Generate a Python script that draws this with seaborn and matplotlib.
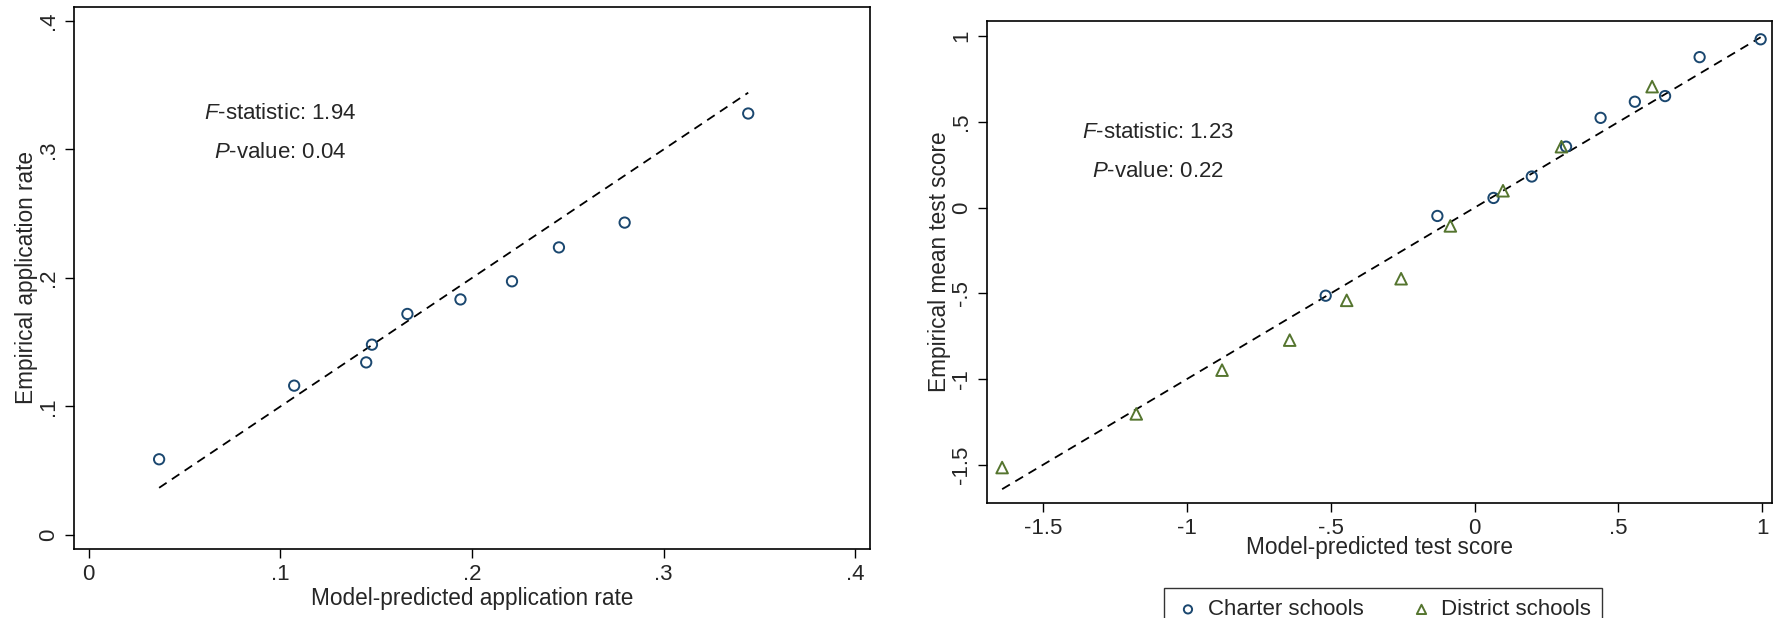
import numpy as np
import pandas as pd
import matplotlib
matplotlib.use('Agg')
import matplotlib.pyplot as plt
import seaborn as sns

# left panel: application rates
app_pred = [0.0367, 0.1072, 0.1448, 0.1478, 0.1663, 0.1940, 0.2209, 0.2454, 0.2797, 0.3442]
app_emp = [0.0589, 0.1162, 0.1343, 0.1481, 0.1720, 0.1833, 0.1974, 0.2238, 0.2431, 0.3280]
app_ticks = [0, 0.1, 0.2, 0.3, 0.4]
app_ticklabels = ['0', '.1', '.2', '.3', '.4']

# right panel: test scores
charter_pred = [0.994, 0.782, 0.662, 0.557, 0.438, 0.318, 0.199, 0.066, -0.129, -0.517]
charter_emp = [0.982, 0.878, 0.651, 0.618, 0.524, 0.356, 0.182, 0.057, -0.048, -0.513]
district_pred = [0.617, 0.302, 0.099, -0.084, -0.255, -0.444, -0.642, -0.877, -1.175, -1.641]
district_emp = [0.706, 0.356, 0.099, -0.106, -0.414, -0.540, -0.772, -0.947, -1.202, -1.515]
score_ticks = [-1.5, -1, -0.5, 0, 0.5, 1]
score_ticklabels = ['-1.5', '-1', '-.5', '0', '.5', '1']

navy = '#1a476f'
green = '#55752f'

sns.set_style('ticks')
plt.rcParams['font.family'] = ['Liberation Sans', 'DejaVu Sans']
plt.rcParams['mathtext.fontset'] = 'custom'
plt.rcParams['mathtext.rm'] = 'Liberation Sans'
plt.rcParams['mathtext.it'] = 'Liberation Sans:italic'
plt.rcParams['font.size'] = 16

fig = plt.figure(figsize=(17.8, 6.18), dpi=100)
ax1 = fig.add_axes([0.0416, 0.1117, 0.4472, 0.877])
ax2 = fig.add_axes([0.5545, 0.1861, 0.441, 0.780])

# left
df1 = pd.DataFrame({'pred': app_pred, 'emp': app_emp})
lo, hi = min(app_pred), max(app_pred)
ax1.plot([lo, hi], [lo, hi], ls=(0, (5, 3.5)), color='black', lw=1.3, zorder=1)
sns.scatterplot(data=df1, x='pred', y='emp', ax=ax1, marker='o', s=55,
                facecolor='none', edgecolor=navy, linewidth=1.4, zorder=2)
ax1.set_xlim(-0.0077, 0.4078)
ax1.set_ylim(-0.0109, 0.4109)
ax1.set_xticks(app_ticks, app_ticklabels)
ax1.set_yticks(app_ticks, app_ticklabels)
ax1.set_xlabel('Model-predicted application rate', fontsize=16.3, labelpad=2)
ax1.set_ylabel('Empirical application rate', fontsize=16.3, labelpad=0)
ax1.text(0.100, 0.328, r'$\mathit{F}$-statistic: 1.94', ha='center', va='center', fontsize=16)
ax1.text(0.100, 0.298, r'$\mathit{P}$-value: 0.04', ha='center', va='center', fontsize=16)

# right
df2 = pd.DataFrame({
    'pred': charter_pred + district_pred,
    'emp': charter_emp + district_emp,
    'type': ['Charter schools'] * len(charter_pred) + ['District schools'] * len(district_pred),
})
allx = charter_pred + district_pred
lo, hi = min(allx), max(allx)
ax2.plot([lo, hi], [lo, hi], ls=(0, (5, 3.5)), color='black', lw=1.3, zorder=1)
for name, mk, col in [('Charter schools', 'o', navy), ('District schools', '^', green)]:
    sub = df2[df2['type'] == name]
    sns.scatterplot(data=sub, x='pred', y='emp', ax=ax2, marker=mk, s=70 if mk == '^' else 55,
                    facecolor='none', edgecolor=col, linewidth=1.4, zorder=2, label=name)
ax2.set_xlim(-1.6935, 1.0334)
ax2.set_ylim(-1.7216, 1.089)
ax2.set_xticks(score_ticks, score_ticklabels)
ax2.set_yticks(score_ticks, score_ticklabels)
ax2.set_xlabel('Model-predicted test score', fontsize=16.3, labelpad=-2)
ax2.set_ylabel('Empirical mean test score', fontsize=16.3, labelpad=0)
ax2.text(-1.098, 0.437, r'$\mathit{F}$-statistic: 1.23', ha='center', va='center', fontsize=16)
ax2.text(-1.098, 0.211, r'$\mathit{P}$-value: 0.22', ha='center', va='center', fontsize=16)

handles, labels = ax2.get_legend_handles_labels()
ax2.get_legend().remove()
leg = fig.legend(handles, labels, loc='upper center', bbox_to_anchor=(1383 / 1780, 1 - 577 / 618),
                 ncol=2, frameon=True, fancybox=False, edgecolor='black', fontsize=16,
                 handletextpad=0.3, columnspacing=2.0, borderpad=0.5, handlelength=1.2,
                 markerscale=0.8)
leg.get_frame().set_linewidth(1.0)

for ax in (ax1, ax2):
    for sp in ax.spines.values():
        sp.set_visible(True)
        sp.set_linewidth(1.2)
        sp.set_color('black')
    ax.tick_params(axis='both', length=6.5, width=1.0, color='black', labelsize=16, pad=4)
    ax.tick_params(axis='y', labelrotation=90)
    for lab in ax.get_yticklabels():
        lab.set_va('center')

fig.savefig('out.png', dpi=100)
